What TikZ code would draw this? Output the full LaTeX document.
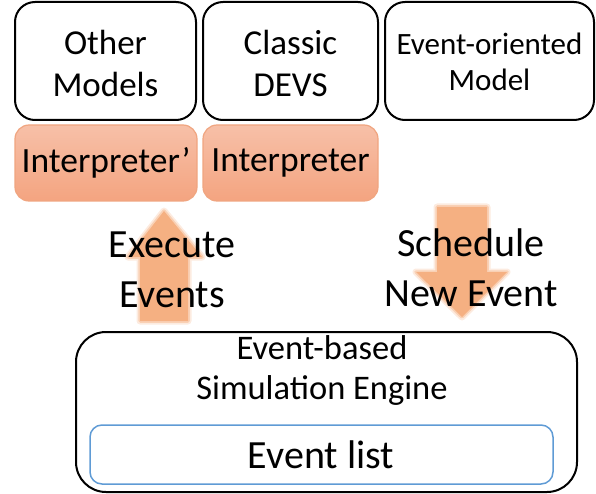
\documentclass[tikz,border=0pt]{standalone}
\usepackage{fontspec}
\setmainfont{Carlito}
\definecolor{interpTop}{RGB}{247,192,168}
\definecolor{interpBot}{RGB}{244,164,128}
\definecolor{interpLine}{RGB}{240,165,128}
\definecolor{flowFill}{RGB}{245,176,130}
\definecolor{listLine}{RGB}{95,155,213}
\tikzset{
  modelbox/.style={draw=black, line width=2pt, rounded corners=20pt},
  interpbox/.style={draw=interpLine, line width=1.2pt, rounded corners=14pt,
    top color=interpTop, bottom color=interpBot},
  % soft-edged block arrow: faint wide halo under a solid fill
  flowarrow/.style={fill=flowFill, line join=round,
    preaction={draw=flowFill, line width=7pt, opacity=0.25, line join=round},
    preaction={draw=flowFill, line width=3.5pt, opacity=0.45, line join=round}},
  big/.style={font=\fontsize{35}{42}\selectfont, align=center},
  interp/.style={font=\fontsize{35.5}{42}\selectfont, align=center},
  mid/.style={font=\fontsize{31}{36}\selectfont, align=center},
  engine/.style={font=\fontsize{34.5}{40}\selectfont, align=center},
  huge/.style={font=\fontsize{40}{50}\selectfont, align=center},
}
\begin{document}
\begin{tikzpicture}[x=1pt,y=1pt]
\useasboundingbox (0,0) rectangle (596,-494);

% model boxes
\draw[modelbox] (15,-2) rectangle (196,-120);
\node[big] (other) at (105.5,-63) {Other\\Models};
\draw[modelbox] (203,-2) rectangle (378,-120);
\node[big] (classic) at (290.5,-63) {Classic\\DEVS};
\draw[modelbox] (385,-2) rectangle (594,-120);
\node[mid] (evmodel) at (489.5,-62) {Event-oriented\\Model};

% interpreters
\draw[interpbox] (15,-125) rectangle (197,-201);
\node[interp] (interp2) at (106,-163) {Interpreter’};
\draw[interpbox] (203,-125) rectangle (378,-201);
\node[interp] (interp) at (290.5,-163) {Interpreter};

% up / down flow arrows
\fill[flowarrow] (164,-211) -- (202,-257) -- (188,-257) -- (188,-321)
  -- (140,-321) -- (140,-257) -- (128,-257) -- cycle;
\fill[flowarrow] (437,-207) -- (487,-207) -- (487,-272) -- (507,-272)
  -- (462,-317) -- (416,-272) -- (437,-272) -- cycle;
\node[huge] (exec) at (172,-270) {Execute\\Events};
\node[huge] (sched) at (471,-268) {Schedule\\New Event};

% simulation engine
\draw[modelbox, rounded corners=30pt] (76,-332) rectangle (577,-492);
\node[engine] (engine) at (322,-370) {Event-based\\Simulation Engine};
\draw[draw=listLine, line width=1.5pt, rounded corners=12pt] (90,-425) rectangle (553,-484);
\node[huge] (list) at (321,-455) {Event list};
\end{tikzpicture}
\end{document}
